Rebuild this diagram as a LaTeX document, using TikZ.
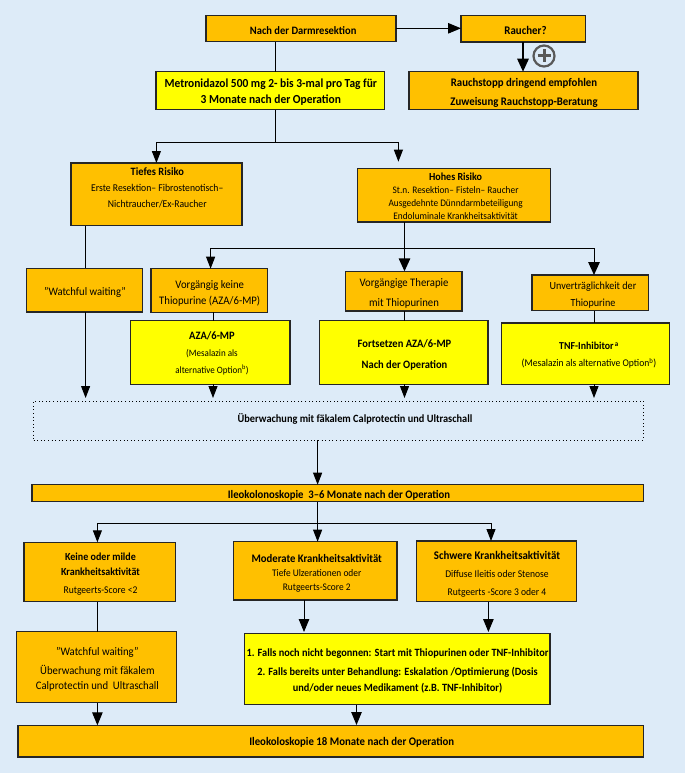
\documentclass[tikz,border=0pt]{standalone}
\usepackage{fontspec}
\setmainfont[FakeStretch=0.93]{Carlito}
\usetikzlibrary{arrows.meta,calc}
\definecolor{bg}{HTML}{DDEBF8}
\definecolor{org}{HTML}{FFC000}
\definecolor{yel}{HTML}{FFFF00}
\definecolor{plusgray}{HTML}{595959}
\newcommand{\fs}[2]{\fontsize{#1}{#2}\selectfont}
\tikzset{
  x=1pt,y=-1pt,
  boxbase/.style={draw=black!85,line width=1.4pt,inner sep=0pt,outer sep=0pt},
  orangebox/.style={boxbase,fill=org},
  yellowbox/.style={boxbase,fill=yel},
  dotbox/.style={draw=black,line width=1pt,dash pattern=on 1pt off 2.6pt,inner sep=0pt,outer sep=0pt},
  txt/.style={align=center,inner sep=0pt,text=black},
  ln/.style={draw=black,line width=1pt},
  arr/.style={ln,-{Triangle[length=12pt,width=9pt]}},
  arrwide/.style={ln,-{Triangle[length=13pt,width=10.5pt]}},
  arrbig/.style={draw=black,line width=1.4pt,-{Triangle[length=13pt,width=11.5pt]}},
}
\newcommand{\bx}[6]{%
  \pgfmathsetmacro{\bw}{#4-#2}\pgfmathsetmacro{\bh}{#5-#3}%
  \pgfmathsetmacro{\bcx}{(#2+#4)/2}\pgfmathsetmacro{\bcy}{(#3+#5)/2}%
  \node[#6,minimum width=\bw pt,minimum height=\bh pt] (#1) at (\bcx,\bcy) {};}
\begin{document}
\begin{tikzpicture}
\fill[bg] (0,0) rectangle (685,773);
\useasboundingbox (0,0) rectangle (685,773);
% boxes
\bx{nach}{205.8}{15.7}{396}{41.7}{orangebox}
\bx{raucher}{461}{15.7}{585.5}{42}{orangebox}
\bx{metro}{156}{71.7}{384.5}{109.7}{yellowbox}
\bx{stopp}{409}{71.7}{638}{109.7}{orangebox}
\bx{tief}{70.8}{163}{242}{225.7}{orangebox}
\bx{hoch}{357.4}{168.7}{550.5}{222}{orangebox}
\bx{wwa}{26.2}{268.3}{142.4}{312}{orangebox}
\bx{vkeine}{151}{268.7}{267.4}{312.3}{orangebox}
\bx{vmit}{345.6}{271.3}{461.8}{311}{orangebox}
\bx{unv}{532}{275}{648.3}{310.7}{orangebox}
\bx{aza}{130.2}{320.7}{290}{384.3}{yellowbox}
\bx{fort}{319.4}{320.7}{488}{384.3}{yellowbox}
\bx{tnf}{501.5}{323}{669.7}{384.3}{yellowbox}
\bx{ueb}{33.6}{401}{643.5}{440}{dotbox}
\bx{ileoa}{32}{484.7}{643.5}{501.7}{orangebox}
\bx{keine}{24}{542.3}{175.2}{601.7}{orangebox}
\bx{mod}{233.7}{541.7}{397}{600}{orangebox}
\bx{schw}{416.3}{541}{576.7}{601.7}{orangebox}
\bx{wwb}{16.6}{631.7}{176.5}{702.7}{orangebox}
\bx{falls}{244.2}{633.7}{550}{704.7}{yellowbox}
\bx{ileob}{18}{725.3}{643.5}{757}{orangebox}
% texts
\node[txt,font=\fs{11.3}{12}\bfseries] (tnach) at (303.2,30.7) {Nach der Darmresektion};
\node[txt,font=\fs{11.7}{12}\bfseries] (traucher) at (525.5,30.7) {Raucher?};
\node[txt,font=\fs{12.3}{16.3}\bfseries] (tmetro) at (270.8,92.5) {Metronidazol 500 mg 2- bis 3-mal pro Tag für\\3 Monate nach der Operation};
\node[txt,font=\fs{11.6}{19}\bfseries] (tstopp) at (524,92.8) {Rauchstopp dringend empfohlen\\Zuweisung Rauchstopp-Beratung};
\node[txt,font=\fs{10.4}{16}] (ttief) at (157.3,188) {{\fs{11.2}{16}\bfseries Tiefes Risiko}\\Erste Resektion– Fibrostenotisch–\\Nichtraucher/Ex-Raucher};
\node[txt,font=\fs{10}{13}] (thoch) at (455.6,195.8) {{\fs{10.8}{13}\bfseries Hohes Risiko}\\St.n. Resektion– Fisteln– Raucher\\Ausgedehnte Dünndarmbeteiligung\\Endoluminale Krankheitsaktivität};
\node[txt,font=\fs{11.4}{12}] (twwa) at (85,292) {"Watchful waiting"};
\node[txt,font=\fs{11.5}{16}] (tvkeine) at (209.7,293.7) {Vorgängig keine\\Thiopurine (AZA/6-MP)};
\node[txt,font=\fs{11.5}{20.3}] (tvmit) at (404,293.2) {Vorgängige Therapie\\mit Thiopurinen};
\node[txt,font=\fs{10.9}{16.7}] (tunv) at (593,295) {Unverträglichkeit der\\Thiopurine};
\node[txt,font=\fs{9.7}{16.7}] (taza) at (212,353.4) {{\fs{11.3}{16.7}\bfseries AZA/6-MP}\\(Mesalazin als\\alternative Option\textsuperscript{b})};
\node[txt,font=\fs{11.3}{20.3}\bfseries] (tfort) at (404.5,354.8) {Fortsetzen AZA/6-MP\\Nach der Operation};
\node[txt,font=\fs{10.3}{17}] (ttnf) at (589,355.5) {{\fs{10.6}{17}\bfseries TNF-Inhibitor\textsuperscript{\,a}}\\(Mesalazin als alternative Option\textsuperscript{b})};
\node[txt,font=\fs{11.1}{12}\bfseries] (tueb) at (355,419.3) {Überwachung mit fäkalem Calprotectin und Ultraschall};
\node[txt,font=\fs{11.5}{12}\bfseries] (tileoa) at (339,495) {Ileokolonoskopie \ 3–6 Monate nach der Operation};
\node[txt,font=\fs{10.8}{15}] (tkeine) at (100.5,574.5) {\textbf{Keine oder milde}\\\textbf{Krankheitsaktivität}\\[3pt]{\fs{10.3}{15}Rutgeerts-Score <2}};
\node[txt,font=\fs{10.1}{14}] (tmod) at (316.7,573.2) {{\fs{11.5}{14}\bfseries Moderate Krankheitsaktivität}\\Tiefe Ulzerationen oder\\Rutgeerts-Score 2};
\node[txt,font=\fs{10.3}{18}] (tschw) at (497,574) {{\fs{11.7}{18}\bfseries Schwere Krankheitsaktivität}\\Diffuse Ileitis oder Stenose\\Rutgeerts -Score 3 oder 4};
\node[txt,font=\fs{11.5}{15}] (twwb) at (97.4,669.5) {"Watchful waiting"\\[4pt]Überwachung mit fäkalem\\Calprotectin und \ Ultraschall};
\node[txt,font=\fs{11.1}{16}\bfseries] (tfalls) at (397.5,670.8) {1. Falls noch nicht begonnen: Start mit Thiopurinen oder TNF-Inhibitor\\[3pt]2. Falls bereits unter Behandlung: Eskalation /Optimierung (Dosis\\und/oder neues Medikament (z.B. TNF-Inhibitor)};
\node[txt,font=\fs{11.6}{12}\bfseries] (tileob) at (351.7,742.7) {Ileokoloskopie 18 Monate nach der Operation};
% routing coordinates
\coordinate (jm) at (275.7,142.7);
\coordinate (hochin) at (398.4,161.7);
\coordinate (ca) at (85.6,398);
\coordinate (cb) at (213,398);
\coordinate (cc) at (404.5,398);
\coordinate (cd) at (594,398);
\coordinate (jh) at (404.5,248.3);
\coordinate (ce) at (317.6,523.7);
\coordinate (cf) at (97.4,523.7);
\coordinate (cg) at (491,523.7);
\coordinate (ch) at (304,632);
\coordinate (ci) at (488.4,632);
\coordinate (cj) at (356.5,725);
\coordinate (ck) at (523,0);
\coordinate (cl) at (210.6,0);
\coordinate (cm) at (594,262);
% connectors
\draw[arrwide] (nach.east |- 0,28.3) -- (raucher.west |- 0,28.3);
\draw[arrbig] (raucher.south -| ck) -- (stopp.north -| ck);
\draw[ln] (nach.south -| jm) -- (metro.north -| jm);
\draw[ln] (metro.south -| jm) -- (jm);
\draw[arr] (jm) -| (tief.north);
\draw[arr] (jm) -| (hochin);
\draw[ln] (tief.south -| ca) -- (wwa.north -| ca);
\draw[arr] (wwa.south -| ca) -- (ca);
\draw[ln] (hoch.south -| jh) -- (jh);
\draw[arr] (jh) -| (vkeine.north -| cl);
\draw[arrbig] (jh) -- (vmit.north -| jh);
\draw[ln] (jh) -| (cm);
\draw[arrbig] (cm) -- (unv.north -| cd);
\draw[ln] (vkeine.south -| cb) -- (aza.north -| cb);
\draw[ln] (vmit.south -| cc) -- (fort.north -| cc);
\draw[ln] (unv.south -| cd) -- (tnf.north -| cd);
\draw[arr] (aza.south -| cb) -- (cb);
\draw[arr] (fort.south -| cc) -- (cc);
\draw[arr] (tnf.south -| cd) -- (cd);
\draw[arr] (ueb.south -| ce) -- (ileoa.north -| ce);
\draw[ln] (ileoa.south -| ce) -- (ce);
\draw[arr] (ce) -- (mod.north -| ce);
\draw[arr] (ce) -- (cf) -- (keine.north -| cf);
\draw[arr] (ce) -- (cg) -- (schw.north -| cg);
\draw[arrwide] (mod.south -| ch) -- (ch);
\draw[arrwide] (schw.south -| ci) -- (ci);
\draw[ln] (keine.south -| cf) -- (wwb.north -| cf);
\draw[arrwide] (wwb.south -| cf) -- (ileob.north -| cf);
\draw[arrwide] (falls.south -| cj) -- (cj);
% plus symbol
\node[draw=plusgray,line width=2.2pt,circle,minimum size=21pt,inner sep=0pt] (plusc) at (544,56) {};
\draw[plusgray,line width=3pt] ($(plusc.center)+(-6.5,0)$) -- ($(plusc.center)+(6.5,0)$);
\draw[plusgray,line width=3pt] ($(plusc.center)+(0,-6.5)$) -- ($(plusc.center)+(0,6.5)$);
\end{tikzpicture}
\end{document}
